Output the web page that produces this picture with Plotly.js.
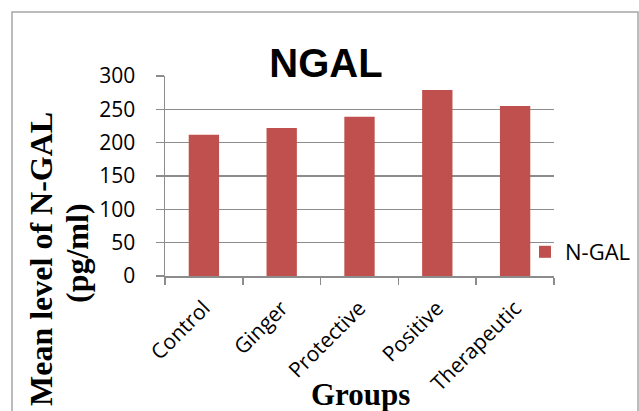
<!DOCTYPE html>
<html>
<head>
<meta charset="utf-8">
<script src="https://cdn.plot.ly/plotly-3.0.1.min.js"></script>
<style>
  html, body { margin: 0; padding: 0; background: #fff; }
  #chart { width: 639px; height: 411px; }
</style>
</head>
<body>
<div id="chart"></div>
<script>
const groups = ["Control", "Ginger", "Protective", "Positive", "Therapeutic"];
const ngalValues = [212, 222, 239, 279, 255];
const seriesName = "N-GAL";
const yTicks = [0, 50, 100, 150, 200, 250, 300];

const gridColor = "#8c8c8c";
const tickFont = { family: "Open Sans, Noto Sans, sans-serif", size: 21, color: "#000" };
const serifBold = { family: "Liberation Serif, Times New Roman, serif", size: 32, color: "#000" };

const data = [{
  type: "bar",
  x: groups,
  y: ngalValues,
  name: seriesName,
  marker: { color: "#C0504D", line: { width: 0 } },
  showlegend: true
}];

const layout = {
  width: 639,
  height: 411,
  margin: { l: 165, r: 85, t: 76, b: 135, autoexpand: false },
  paper_bgcolor: "#fff",
  plot_bgcolor: "#fff",
  bargap: 0.61,
  title: {
    text: "<b>NGAL</b>",
    font: { family: "Liberation Sans, Arial, sans-serif", size: 40, color: "#000" },
    x: 326 / 639, xref: "container", xanchor: "center",
    y: 1 - 63 / 411, yref: "container", yanchor: "middle"
  },
  xaxis: {
    type: "category",
    automargin: false,
    showline: true, linecolor: gridColor, linewidth: 1.5,
    ticks: "outside", tickson: "boundaries", ticklen: 7, tickcolor: gridColor, tickwidth: 1.5,
    tickangle: -45,
    ticklabelstandoff: 10,
    tickfont: tickFont,
    showgrid: false
  },
  yaxis: {
    automargin: false,
    range: [0, 300],
    tickvals: yTicks,
    ticktext: yTicks.map(String),
    showline: true, linecolor: gridColor, linewidth: 1.5,
    ticks: "outside", ticklen: 8, tickcolor: gridColor, tickwidth: 1.5,
    ticklabelstandoff: 16,
    tickfont: tickFont,
    showgrid: true, gridcolor: gridColor, gridwidth: 1.5,
    zeroline: false
  },
  legend: {
    x: (525 - 165) / 389, xanchor: "left",
    y: 0.12, yanchor: "middle",
    font: { family: "Open Sans, Noto Sans, sans-serif", size: 22, color: "#000" },
    bgcolor: "rgba(0,0,0,0)"
  },
  annotations: [
    {
      text: "<b>Mean level of N-GAL</b>",
      xref: "paper", yref: "paper",
      x: (41 - 165) / 389, y: (276 - 259) / 200,
      xanchor: "center", yanchor: "middle",
      textangle: -90, showarrow: false,
      font: serifBold
    },
    {
      text: "<b>(pg/ml)</b>",
      xref: "paper", yref: "paper",
      x: (77 - 165) / 389, y: (276 - 253) / 200,
      xanchor: "center", yanchor: "middle",
      textangle: -90, showarrow: false,
      font: serifBold
    },
    {
      text: "<b>Groups</b>",
      xref: "paper", yref: "paper",
      x: (360 - 165) / 389, y: (276 - 394) / 200,
      xanchor: "center", yanchor: "middle",
      showarrow: false,
      font: { family: "Liberation Serif, Times New Roman, serif", size: 31, color: "#000" }
    }
  ],
  shapes: [{
    type: "rect", xref: "paper", yref: "paper", layer: "below",
    x0: (12 - 165) / 389, x1: (638 - 165) / 389,
    y0: (276 - 430) / 200, y1: (276 - 12) / 200,
    line: { color: "#a6a6a6", width: 1.5 }
  }]
};

Plotly.newPlot("chart", data, layout, { displayModeBar: false, staticPlot: true });
</script>
</body>
</html>
